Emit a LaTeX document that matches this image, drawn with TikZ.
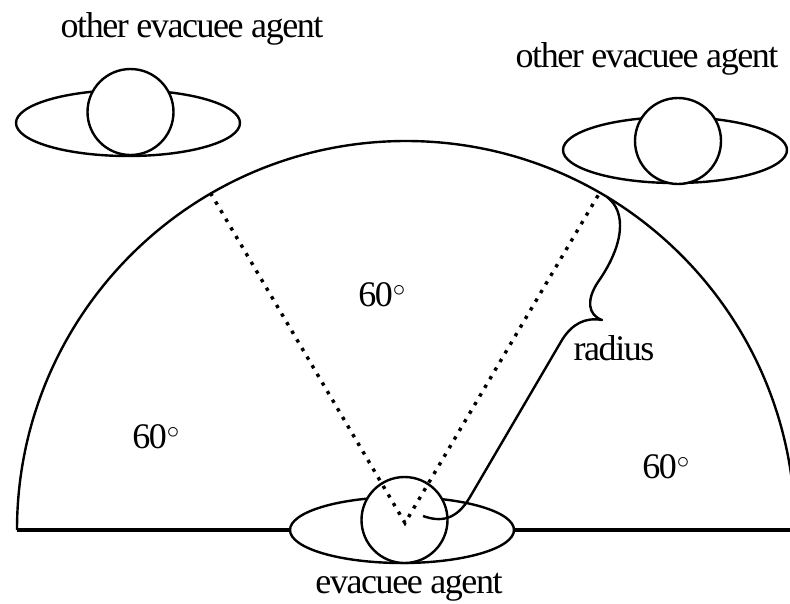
\documentclass[tikz,border=0pt]{standalone}
\usepackage{fontspec}
\setmainfont{Liberation Serif}
\newfontfamily\tightserif[LetterSpace=-4]{Liberation Serif}
\usetikzlibrary{shapes.geometric}
\tikzset{
  agentbody/.style={draw, ellipse, fill=white, line width=2.4pt, inner sep=0pt,
                    minimum width=224, minimum height=66},
  agenthead/.style={draw, circle, fill=white, line width=2.4pt, inner sep=0pt,
                    minimum size=86},
  caption/.style={font=\tightserif\fontsize{36}{38}\selectfont, anchor=base, inner sep=0pt},
  viewline/.style={line width=3.4pt, dash pattern=on 3.4pt off 6.6pt},
  radiusbrace/.style={line width=2.4pt, line join=round},
}

\begin{document}
\begin{tikzpicture}[x=1pt, y=-1pt, line width=2.4pt]
  \useasboundingbox (0,0) rectangle (790,603);

  % ---- ground and field of view ----
  \coordinate (groundL) at (17,530);
  \coordinate (groundR) at (790,530);
  \coordinate (apex)    at (405,523);
  \coordinate (arcL)    at (210.5,193);
  \coordinate (arcR)    at (599.5,193);
  \draw[line width=4.5pt] (groundL) -- (groundR);
  \draw (groundL) arc[start angle=180, end angle=360, radius=389];

  % ---- agents ----
  \node[agentbody] (selfbody)  at (402,530) {};
  \node[agenthead] (selfhead)  at (404.5,520) {};
  \node[agentbody] (leftbody)  at (128,123) {};
  \node[agenthead] (lefthead)  at (130.5,112) {};
  \node[agentbody] (rightbody) at (675,150) {};
  \node[agenthead] (righthead) at (678,141) {};

  % ---- 60 degree sectors ----
  \draw[viewline] (arcL) -- (apex) -- (arcR);

  % ---- brace along the radius ----
  \coordinate (braceTop) at (607,197);
  \coordinate (braceTip) at (602,320);
  \coordinate (braceEnd) at (423,516);
  \draw[radiusbrace] (braceTop) .. controls (627,212) and (624,245) .. (598,282)
        .. controls (586,300) and (588,315) .. (braceTip)
        .. controls (585,317) and (572,324) .. (562,340)
        -- (470,497) .. controls (456,521) and (440,522) .. (braceEnd);

  % ---- labels ----
  \node[caption] (leftname)  at (192,37)  {other evacuee agent};
  \node[caption] (rightname) at (647,67)  {other evacuee agent};
  \node[caption] (selfname)  at (409,593) {evacuee agent};
  \node[caption] (radlbl)    at (614,360) {radius};
  \node[caption] (angmid)    at (382,306) {60$^\circ$};
  \node[caption] (angleft)   at (156,448) {60$^\circ$};
  \node[caption] (angright)  at (666,478) {60$^\circ$};

\end{tikzpicture}
\end{document}
